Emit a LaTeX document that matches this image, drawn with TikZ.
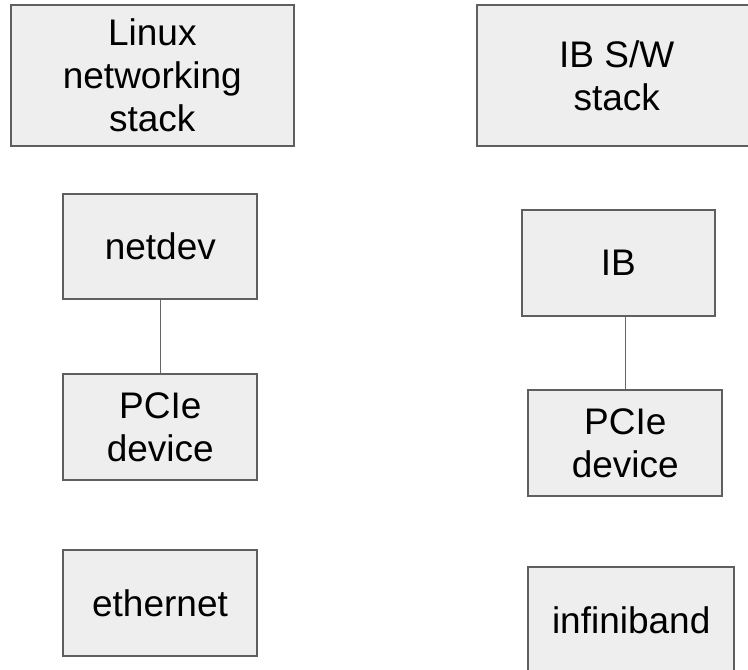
\documentclass[tikz,border=0pt]{standalone}
\usepackage{fontspec}
\setmainfont{Liberation Sans}
\definecolor{boxfill}{HTML}{EEEEEE}
\definecolor{boxline}{HTML}{5F5F5F}
\definecolor{linkline}{HTML}{666666}
\begin{document}
\begin{tikzpicture}[x=1pt,y=1pt,
  blk/.style={draw=boxline, fill=boxfill, line width=2pt, inner sep=0pt,
    align=center, font=\fontsize{37}{43}\selectfont, text=black},
  link/.style={draw=linkline, line width=1.3pt}]
\clip (0,0) rectangle (748,670);
\fill[white] (0,0) rectangle (748,670);
\node[blk, minimum width=283.3pt, minimum height=141.3pt] (linux) at (152.3,594.7) {Linux\\networking\\stack};
\node[blk, minimum width=280pt, minimum height=141.3pt] (ibsw) at (616.7,594.7) {IB S/W\\stack};
\node[blk, minimum width=194pt, minimum height=105pt] (netdev) at (160.3,423.5) {netdev};
\node[blk, minimum width=194pt, minimum height=106pt] (pciel) at (160.3,243) {PCIe\\device};
\node[blk, minimum width=194.6pt, minimum height=106pt] (eth) at (160,67) {ethernet};
\node[blk, minimum width=193.3pt, minimum height=105.7pt] (ib) at (618.3,407.2) {IB};
\node[blk, minimum width=194pt, minimum height=106pt] (pcier) at (625.3,227) {PCIe\\device};
\node[blk, minimum width=205.7pt, minimum height=106.3pt] (ifb) at (631.2,50.2) {infiniband};
\draw[link] (netdev.south) -- (pciel.north);
\draw[link] (pcier.north |- ib.south) -- (pcier.north);
\end{tikzpicture}
\end{document}
